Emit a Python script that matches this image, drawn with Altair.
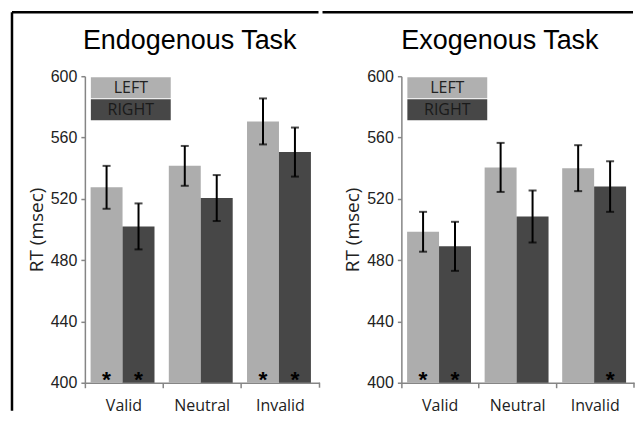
import altair as alt
import pandas as pd

conditions = ["Valid", "Neutral", "Invalid"]
sides = ["LEFT", "RIGHT"]
titles = ["Endogenous Task", "Exogenous Task"]
y_ticks = [400, 440, 480, 520, 560, 600]

endo_left = [527.5, 541.5, 570.5]
endo_right = [502.0, 520.5, 550.5]
endo_left_err = [14, 13, 15]
endo_right_err = [15, 15, 16]
endo_left_star = ["*", "", "*"]
endo_right_star = ["*", "", "*"]

exo_left = [498.5, 540.5, 540.0]
exo_right = [489.0, 508.5, 528.0]
exo_left_err = [13, 16, 15]
exo_right_err = [16, 17, 16.5]
exo_left_star = ["*", "", ""]
exo_right_star = ["*", "", "*"]

LIGHT = "#adadad"
DARK = "#474747"
AXIS_GRAY = "#858585"
H = 307


def make_df(lv, rv, le, re, ls, rs):
    rows = []
    for i, c in enumerate(conditions):
        rows.append(dict(cond=c, side="LEFT", rt=lv[i], lo=lv[i] - le[i], hi=lv[i] + le[i], star=ls[i]))
        rows.append(dict(cond=c, side="RIGHT", rt=rv[i], lo=rv[i] - re[i], hi=rv[i] + re[i], star=rs[i]))
    return pd.DataFrame(rows)


def panel(title, df, W, rule_start, with_left_frame, title_dx):
    base = alt.Chart(df)
    x = alt.X("cond:N", sort=conditions,
              scale=alt.Scale(paddingInner=0, paddingOuter=0),
              axis=alt.Axis(title=None, labelAngle=0, bandPosition=0, tickSize=5,
                            labelPadding=10, labelFont="Open Sans", labelFontSize=16,
                            labelColor="#222222", tickColor=AXIS_GRAY, domainColor=AXIS_GRAY,
                            tickWidth=1.5, domainWidth=1.5))
    xo = alt.XOffset("side:N", sort=sides,
                     scale=alt.Scale(paddingInner=0, paddingOuter=0.224, align=0.4))
    yscale = alt.Scale(domain=[400, 600], zero=False, nice=False)
    color = alt.Color("side:N", sort=sides, scale=alt.Scale(domain=sides, range=[LIGHT, DARK]), legend=None)

    bars = base.mark_bar().encode(
        x=x, xOffset=xo,
        y=alt.Y("rt:Q", scale=yscale,
                axis=alt.Axis(values=y_ticks, title="RT (msec)", grid=False, tickSize=4,
                              labelFont="Liberation Sans", labelFontSize=16, labelColor="#222222",
                              labelPadding=4, titleFont="Open Sans", titleFontSize=19,
                              titleFontWeight="normal", titleColor="#222222", titlePadding=4,
                              tickColor=AXIS_GRAY, domainColor=AXIS_GRAY, tickWidth=1.5,
                              domainWidth=1.5)),
        y2=alt.datum(400),
        color=color,
    )
    err = base.mark_rule(color="black", strokeWidth=2).encode(
        x=x, xOffset=xo, y=alt.Y("lo:Q", scale=yscale), y2="hi:Q")
    cap_lo = base.mark_tick(color="black", size=8, thickness=2).encode(
        x=x, xOffset=xo, y=alt.Y("lo:Q", scale=yscale))
    cap_hi = base.mark_tick(color="black", size=8, thickness=2).encode(
        x=x, xOffset=xo, y=alt.Y("hi:Q", scale=yscale))
    stars = base.mark_text(font="Liberation Sans", fontSize=23, fontWeight="bold", color="black",
                           baseline="alphabetic", dy=4).encode(
        x=x, xOffset=xo, y=alt.datum(400), text="star:N")

    leg_df = pd.DataFrame({"side": sides})
    leg = alt.Chart(leg_df)
    one = leg.transform_filter(alt.datum.side == "LEFT")
    leg_rect_l = one.mark_rect(color="#b0b0b0").encode(
        x=alt.value(6), x2=alt.value(86), y=alt.value(1), y2=alt.value(22))
    leg_rect_r = leg.transform_filter(alt.datum.side == "RIGHT").mark_rect(color=DARK).encode(
        x=alt.value(6), x2=alt.value(86), y=alt.value(23), y2=alt.value(44))
    leg_txt_l = one.mark_text(
        font="Open Sans", fontSize=16, color="#222222", align="center", baseline="middle").encode(
        x=alt.value(46), y=alt.value(12), text="side:N")
    leg_txt_r = leg.transform_filter(alt.datum.side == "RIGHT").mark_text(
        font="Open Sans", fontSize=16, color="#1a1a1a", align="center", baseline="middle").encode(
        x=alt.value(46), y=alt.value(34), text="side:N")

    end_tick = one.mark_rule(color=AXIS_GRAY, strokeWidth=1.5).encode(
        x=alt.value(W), y=alt.value(H), y2=alt.value(H + 5))

    top_frame = one.mark_rule(color="black", strokeWidth=2.5).encode(
        x=alt.value(rule_start), x2=alt.value(W - 1), y=alt.value(-64))

    title_mark = one.mark_text(
        text=title, font="Liberation Sans", fontSize=27, color="black",
        align="left", baseline="alphabetic").encode(
        x=alt.value(title_dx), y=alt.value(-27))

    layers = [bars, err, cap_lo, cap_hi, stars, leg_rect_l, leg_rect_r, leg_txt_l, leg_txt_r,
              end_tick, top_frame, title_mark]
    if with_left_frame:
        left_frame = one.mark_rule(color="black", strokeWidth=2.5).encode(
            x=alt.value(rule_start), y=alt.value(-64), y2=alt.value(H + 28))
        layers.append(left_frame)

    return alt.layer(*layers).properties(width=W, height=H)


df_endo = make_df(endo_left, endo_right, endo_left_err, endo_right_err, endo_left_star, endo_right_star)
df_exo = make_df(exo_left, exo_right, exo_left_err, exo_right_err, exo_left_star, exo_right_star)

p1 = panel(titles[0], df_endo, 235, -73, True, -2)
p2 = panel(titles[1], df_exo, 233, -79, False, 0)

chart = alt.hconcat(p1, p2, spacing=0).properties(
    padding={"left": 2, "top": 2, "right": 0, "bottom": 3}
).configure(background="white").configure_view(strokeWidth=0)

chart.save("out.html", embed_options={"renderer": "svg", "actions": False})
